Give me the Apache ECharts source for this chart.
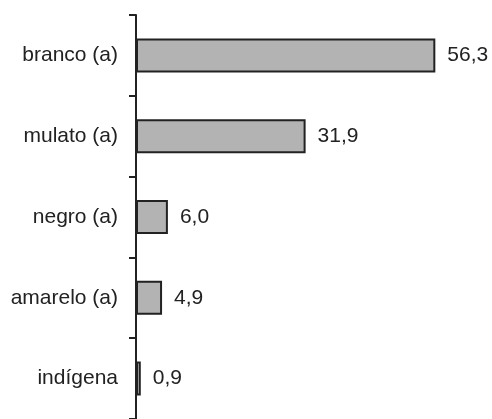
<!DOCTYPE html>
<html><head><meta charset="utf-8">
<style>html,body{margin:0;padding:0;background:#fff}#c{width:492px;height:419px}</style>
<script src="https://cdn.jsdelivr.net/npm/echarts@6/dist/echarts.min.js"></script>
</head><body><div id="c"></div>
<script>
var categories = ['branco (a)', 'mulato (a)', 'negro (a)', 'amarelo (a)', 'indígena'];
var values = [56.3, 31.9, 6.0, 4.9, 0.9];
var valueLabels = ['56,3', '31,9', '6,0', '4,9', '0,9'];

var chart = echarts.init(document.getElementById('c'), null, {renderer: 'canvas'});
chart.setOption({
  animation: false,
  backgroundColor: '#fff',
  grid: {left: 136, top: 15, width: 319, height: 407.5, containLabel: false},
  xAxis: {type: 'value', min: 0, max: 60, show: false},
  yAxis: {
    type: 'category', data: categories, inverse: true,
    axisLine: {show: true, lineStyle: {color: '#222', width: 2}},
    axisTick: {show: true, length: 7, lineStyle: {color: '#222', width: 2}},
    axisLabel: {margin: 18, color: '#222', fontFamily: 'Liberation Sans', fontSize: 21}
  },
  series: [{
    type: 'bar',
    data: values,
    barWidth: 34,
    itemStyle: {color: '#b3b3b3', borderColor: '#222', borderWidth: 2},
    label: {
      show: true, position: 'right', distance: 12,
      color: '#222', fontFamily: 'Liberation Sans', fontSize: 21,
      formatter: function (p) { return valueLabels[p.dataIndex]; }
    }
  }]
});
</script></body></html>
